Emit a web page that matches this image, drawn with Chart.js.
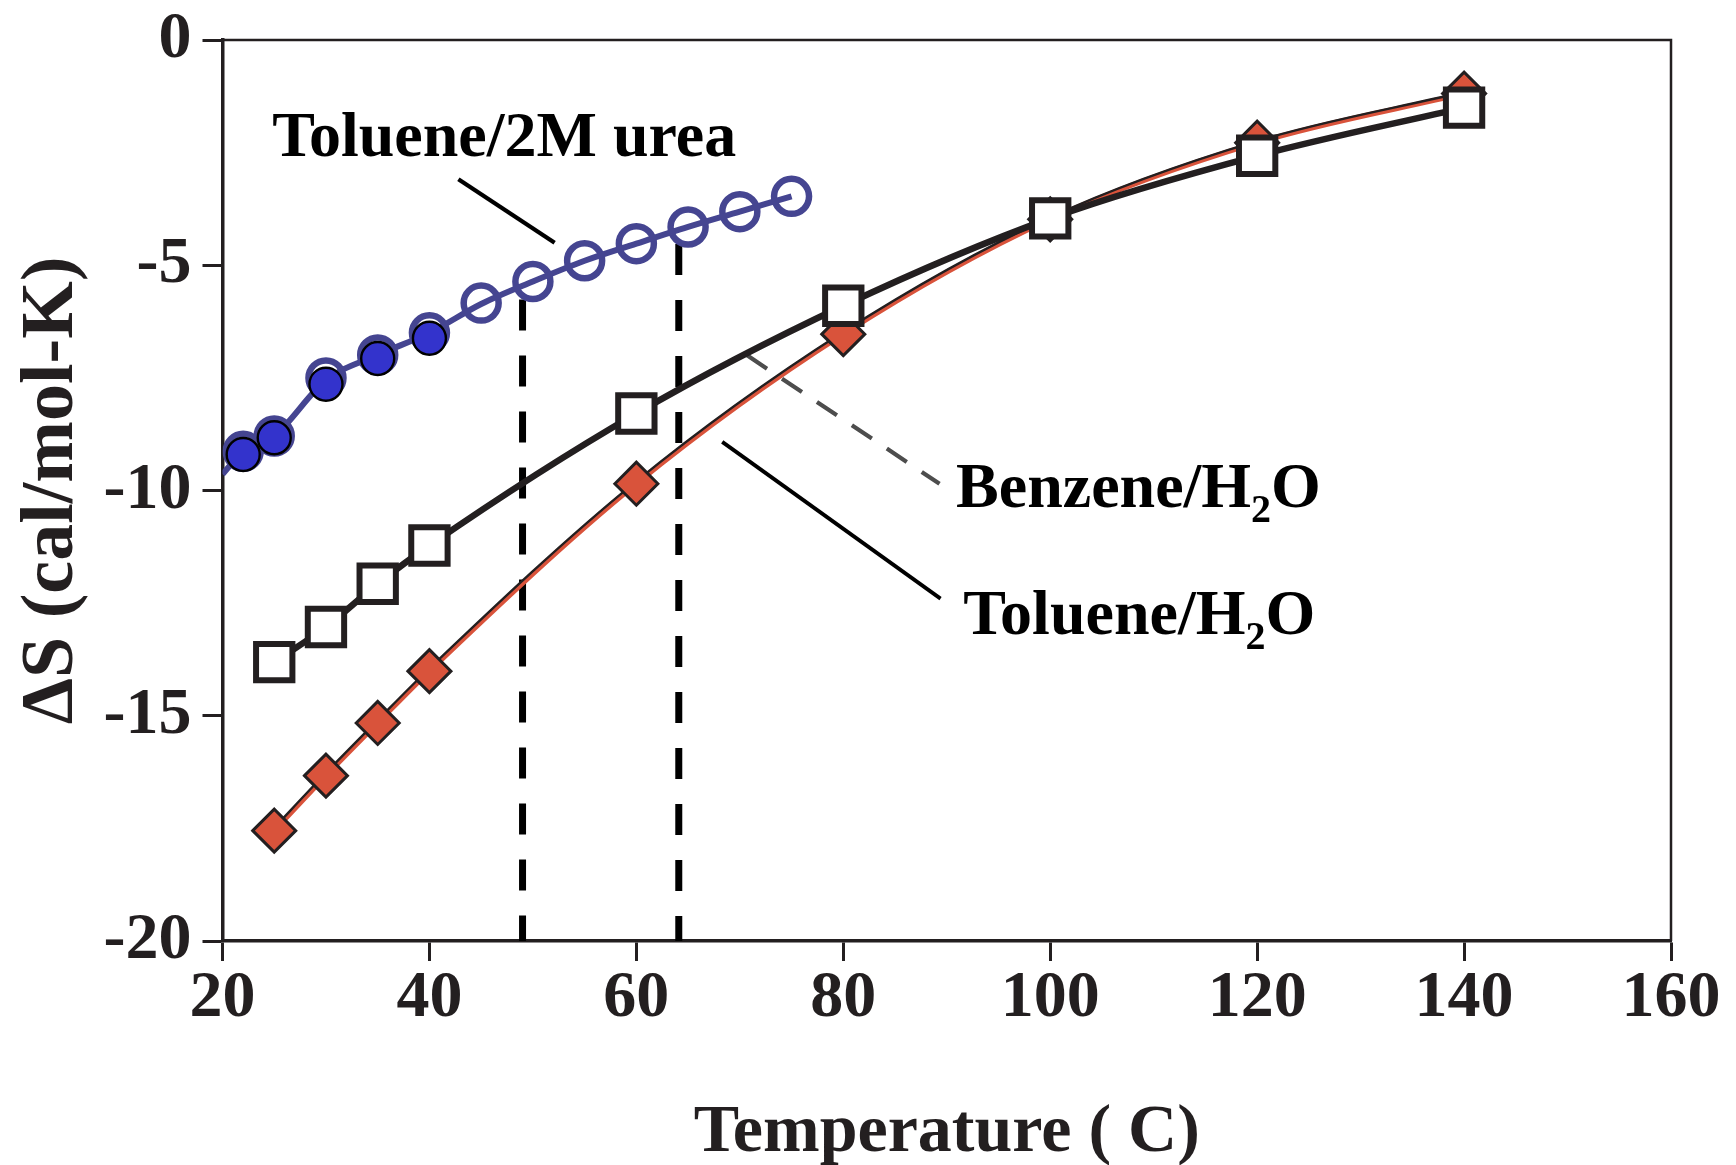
<!DOCTYPE html>
<html>
<head>
<meta charset="utf-8">
<script src="https://cdn.jsdelivr.net/npm/chart.js@4.4.1/dist/chart.umd.min.js"></script>
<style>
  html, body { margin: 0; padding: 0; background: #fff; }
  canvas { display: block; }
</style>
</head>
<body>
<canvas id="chart" width="1736" height="1165"></canvas>
<script>
// temperatures in C, entropy in cal/mol-K
const waterTemps = [25, 30, 35, 40, 60, 80, 100, 120, 140];
const tolueneWater = [-17.55, -16.33, -15.16, -14.01, -9.85, -6.53, -3.98, -2.28, -1.19];
const benzeneWater = [-13.81, -13.03, -12.07, -11.22, -8.29, -5.90, -3.96, -2.57, -1.50];

const ureaTemps = [22, 25, 30, 35, 40, 45, 50, 55, 60, 65, 70, 75];
const ureaOpen = [-9.13, -8.79, -7.50, -6.99, -6.50, -5.84, -5.36, -4.90, -4.52, -4.15, -3.81, -3.47];
const ureaFilledTemps = [22, 25, 30, 35, 40];
const ureaFilled = [-9.20, -8.83, -7.64, -7.07, -6.62];
const ureaFitTemps = [20, 22, 25, 30, 35, 40, 45, 50, 55, 60, 65, 70, 75];
const ureaFit = [-9.64, -9.13, -8.79, -7.55, -6.99, -6.50, -5.86, -5.36, -4.90, -4.52, -4.15, -3.81, -3.47];

// vertical dashed markers (from the urea curve down to the axis)
const markerTemps = [49.0, 64.1];
const markerTops = [-5.76, -4.53];

// label leader lines [start, end]
const ureaLeaderT = [42.8, 52.1];
const ureaLeaderV = [-3.09, -4.50];
const benzLeaderT = [70.7, 89.3];
const benzLeaderV = [-7.00, -9.85];
const toluLeaderT = [68.3, 89.4];
const toluLeaderV = [-8.92, -12.40];

// annotation labels, "_" marks a subscript character
const labelText = ['Toluene/2M urea', 'Benzene/H_2O', 'Toluene/H_2O'];
const labelT = [24.8, 90.9, 91.6];
const labelV = [-2.58, -10.36, -13.18];

const xTickValues = [20, 40, 60, 80, 100, 120, 140, 160];
const yTickValues = [-20, -15, -10, -5, 0];

const SERIF = "'Liberation Serif', 'Times New Roman', serif";
const INK = '#231f20';
const UREA_BLUE = '#454591';
const FILL_BLUE = '#3333cc';
const RED = '#d9533b';

const pts = (xs, ys) => xs.map((x, i) => ({ x: x, y: ys[i] }));

const lineSet = (data, color, width, order, extra) => Object.assign({
  data: data,
  showLine: true,
  borderColor: color,
  borderWidth: width,
  pointRadius: 0,
  pointHoverRadius: 0,
  fill: false,
  order: order
}, extra || {});

const TOLU_BLACK_INDEX = 4;

const datasets = [
  // dashed vertical markers
  lineSet(pts([markerTemps[0], markerTemps[0]], [markerTops[0], -20]), '#000', 7, 20, { borderDash: [31, 25] }),
  lineSet(pts([markerTemps[1], markerTemps[1]], [markerTops[1], -20]), '#000', 7, 20, { borderDash: [31, 25] }),
  // leader lines
  lineSet(pts(ureaLeaderT, ureaLeaderV), '#000', 4.2, 19),
  lineSet(pts(benzLeaderT, benzLeaderV), '#4d4d4d', 4.2, 19, { borderDash: [24, 18] }),
  // toluene/water fit: black thin line over red line (index 4 shifted slightly)
  lineSet(pts(waterTemps, tolueneWater), INK, 2.4, 17, { cubicInterpolationMode: 'monotone' }),
  lineSet(pts(waterTemps, tolueneWater), RED, 5, 18, { cubicInterpolationMode: 'monotone' }),
  lineSet(pts(toluLeaderT, toluLeaderV), '#000', 3.8, 19),
  // benzene/water fit
  lineSet(pts(waterTemps, benzeneWater), INK, 6.5, 16, { cubicInterpolationMode: 'monotone' }),
  // toluene/water markers
  {
    data: pts(waterTemps, tolueneWater),
    showLine: false,
    pointStyle: 'rectRot',
    pointRadius: 21.5,
    pointHoverRadius: 21.5,
    pointBackgroundColor: RED,
    pointBorderColor: INK,
    pointBorderWidth: 3,
    order: 15
  },
  // benzene/water markers
  {
    data: pts(waterTemps, benzeneWater),
    showLine: false,
    pointStyle: 'rect',
    pointRadius: 25.7,
    pointHoverRadius: 25.7,
    pointBackgroundColor: '#fff',
    pointBorderColor: INK,
    pointBorderWidth: 6,
    order: 14
  },
  // toluene / 2M urea open circles
  {
    data: pts(ureaTemps, ureaOpen),
    showLine: false,
    pointStyle: 'circle',
    pointRadius: 17.5,
    pointHoverRadius: 17.5,
    pointBackgroundColor: 'rgba(255,255,255,0)',
    pointBorderColor: UREA_BLUE,
    pointBorderWidth: 6.5,
    order: 13
  },
  // urea fit
  lineSet(pts(ureaFitTemps, ureaFit), UREA_BLUE, 6, 12, { cubicInterpolationMode: 'monotone' }),
  // filled circles
  {
    data: pts(ureaFilledTemps, ureaFilled),
    showLine: false,
    pointStyle: 'circle',
    pointRadius: 16.5,
    pointHoverRadius: 16.5,
    pointBackgroundColor: FILL_BLUE,
    pointBorderColor: '#000',
    pointBorderWidth: 2.4,
    order: 11
  }
];

const shiftPlugin = {
  id: 'shiftLine',
  beforeDatasetDraw(chart, args) {
    if (args.index === TOLU_BLACK_INDEX) {
      chart.ctx.save();
      chart.ctx.translate(-1.4, -1.4);
    }
  },
  afterDatasetDraw(chart, args) {
    if (args.index === TOLU_BLACK_INDEX) chart.ctx.restore();
  }
};

const framePlugin = {
  id: 'frame',
  beforeDatasetsDraw(chart) {
    const { ctx, chartArea: a } = chart;
    ctx.save();
    ctx.strokeStyle = INK;
    ctx.lineWidth = 2.5;
    ctx.beginPath();
    ctx.moveTo(a.left, a.top);
    ctx.lineTo(a.right, a.top);
    ctx.lineTo(a.right, a.bottom);
    ctx.stroke();
    ctx.restore();
  }
};

const labelPlugin = {
  id: 'labels',
  afterDatasetsDraw(chart) {
    const { ctx, scales } = chart;
    const size = 64;
    ctx.save();
    ctx.fillStyle = '#000';
    ctx.textBaseline = 'alphabetic';
    ctx.textAlign = 'left';
    labelText.forEach((txt, i) => {
      let x = scales.x.getPixelForValue(labelT[i]);
      const y = scales.y.getPixelForValue(labelV[i]);
      const parts = txt.split('_');
      ctx.font = 'bold ' + size + 'px ' + SERIF;
      ctx.fillText(parts[0], x, y);
      x += ctx.measureText(parts[0]).width;
      if (parts.length > 1) {
        const sub = parts[1].charAt(0);
        const rest = parts[1].slice(1);
        ctx.font = 'bold ' + Math.round(size * 0.62) + 'px ' + SERIF;
        ctx.fillText(sub, x, y + 15);
        x += ctx.measureText(sub).width;
        ctx.font = 'bold ' + size + 'px ' + SERIF;
        ctx.fillText(rest, x, y);
      }
    });
    ctx.restore();
  }
};

new Chart(document.getElementById('chart'), {
  type: 'scatter',
  data: { datasets: datasets },
  plugins: [shiftPlugin, framePlugin, labelPlugin],
  options: {
    responsive: false,
    animation: false,
    events: [],
    layout: { padding: { top: 40, right: 65, left: 0, bottom: 0 } },
    plugins: {
      legend: { display: false },
      tooltip: { enabled: false }
    },
    scales: {
      x: {
        type: 'linear',
        min: 20,
        max: 160,
        afterBuildTicks: s => { s.ticks = xTickValues.map(v => ({ value: v })); },
        afterFit: s => { s.height = 224; },
        border: { display: true, color: INK, width: 3.5 },
        grid: { drawOnChartArea: false, drawTicks: true, tickLength: 20, tickWidth: 3, tickColor: INK },
        ticks: {
          color: INK,
          padding: 0,
          maxRotation: 0,
          font: { family: SERIF, weight: 'bold', size: 66, lineHeight: 1.15 }
        },
        title: {
          display: true,
          text: 'Temperature ( C)',
          color: INK,
          padding: { top: 0, bottom: 0 },
          font: { family: SERIF, weight: 'bold', size: 68, lineHeight: 0.94 }
        }
      },
      y: {
        type: 'linear',
        min: -20,
        max: 0,
        afterBuildTicks: s => { s.ticks = yTickValues.map(v => ({ value: v })); },
        afterFit: s => { s.width = 222.5; },
        border: { display: true, color: INK, width: 3.5 },
        grid: { drawOnChartArea: false, drawTicks: true, tickLength: 20, tickWidth: 3, tickColor: INK },
        ticks: {
          color: INK,
          padding: 11,
          font: { family: SERIF, weight: 'bold', size: 66, lineHeight: 0.8 }
        },
        title: {
          display: true,
          text: 'ΔS (cal/mol-K)',
          color: INK,
          padding: { top: 8, bottom: 0 },
          font: { family: SERIF, weight: 'bold', size: 74 }
        }
      }
    }
  }
});
</script>
</body>
</html>
